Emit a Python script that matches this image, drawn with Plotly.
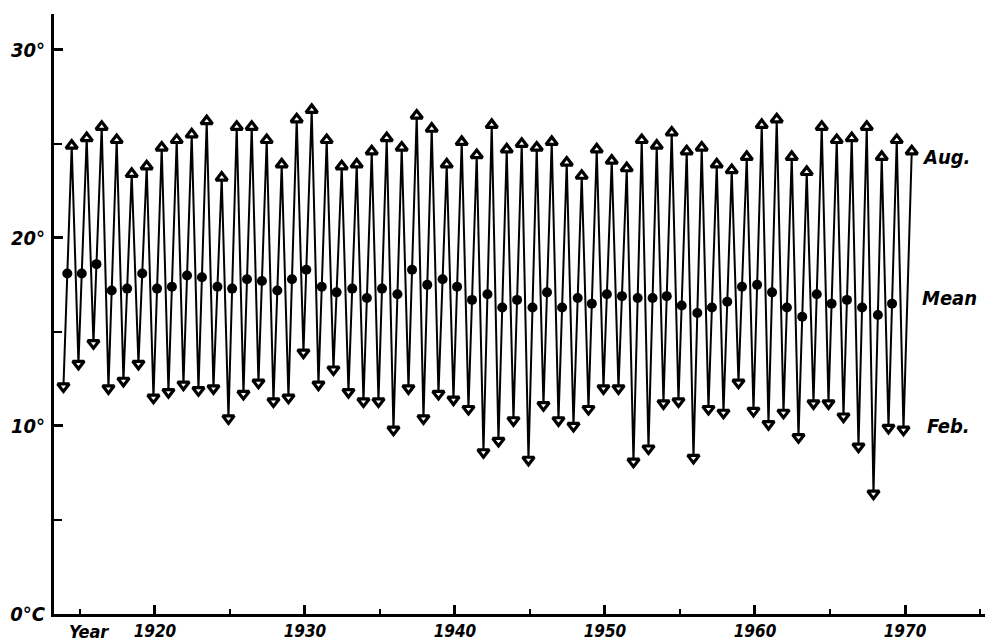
import numpy as np
import plotly.graph_objects as go

years = list(range(1914, 1971))

feb = [12.1, 13.3, 14.4, 12.0, 12.4, 13.3, 11.5, 11.8, 12.2, 11.9,
       12.0, 10.4, 11.7, 12.3, 11.3, 11.5, 13.9, 12.2, 13.0, 11.8,
       11.3, 11.3, 9.8, 12.0, 10.4, 11.7, 11.4, 10.9, 8.6, 9.2,
       10.3, 8.2, 11.1, 10.3, 10.0, 10.9, 12.0, 12.0, 8.1, 8.8,
       11.2, 11.3, 8.3, 10.9, 10.7, 12.3, 10.8, 10.1, 10.7, 9.4,
       11.2, 11.2, 10.5, 8.9, 6.4, 9.9, 9.8]

aug = [24.9, 25.3, 25.9, 25.2, 23.4, 23.8, 24.8, 25.2, 25.5, 26.2,
       23.2, 25.9, 25.9, 25.2, 23.9, 26.3, 26.8, 25.2, 23.8, 23.9,
       24.6, 25.3, 24.8, 26.5, 25.8, 23.9, 25.1, 24.4, 26.0, 24.7,
       25.0, 24.8, 25.1, 24.0, 23.3, 24.7, 24.1, 23.7, 25.2, 24.9,
       25.6, 24.6, 24.8, 23.9, 23.6, 24.3, 26.0, 26.3, 24.3, 23.5,
       25.9, 25.2, 25.3, 25.9, 24.3, 25.2, 24.6]

mean = [18.1, 18.1, 18.6, 17.2, 17.3, 18.1, 17.3, 17.4, 18.0, 17.9,
        17.4, 17.3, 17.8, 17.7, 17.2, 17.8, 18.3, 17.4, 17.1, 17.3,
        16.8, 17.3, 17.0, 18.3, 17.5, 17.8, 17.4, 16.7, 17.0, 16.3,
        16.7, 16.3, 17.1, 16.3, 16.8, 16.5, 17.0, 16.9, 16.8, 16.8,
        16.9, 16.4, 16.0, 16.3, 16.6, 17.4, 17.5, 17.1, 16.3, 15.8,
        17.0, 16.5, 16.7, 16.3, 15.9, 16.5, None]

x_major = [1920, 1930, 1940, 1950, 1960, 1970]
x_labels = ["1920", "1930", "1940", "1950", "1960", "1970"]
y_major = [0, 10, 20, 30]
y_labels = ["0°C", "10°", "20°", "30°"]

# plotting positions within each year (month offsets)
FEB_OFF = -0.1
AUG_OFF = 0.45

yr = np.array(years, dtype=float)
f = np.array(feb)
a = np.array(aug)
xf = yr + FEB_OFF
xa = yr + AUG_OFF

zx = np.empty(2 * len(yr))
zy = np.empty(2 * len(yr))
zx[0::2], zx[1::2] = xf, xa
zy[0::2], zy[1::2] = f, a

mx, my = [], []
for i, m in enumerate(mean):
    if m is None:
        continue
    t = (m - f[i]) / (a[i] - f[i])
    mx.append(xf[i] + t * (xa[i] - xf[i]))
    my.append(m)

FONT = "DejaVu Sans Condensed, DejaVu Sans, sans-serif"

fig = go.Figure()
fig.add_trace(go.Scatter(x=zx, y=zy, mode="lines",
                         line=dict(color="black", width=2),
                         hoverinfo="skip", showlegend=False))
fig.add_trace(go.Scatter(x=xf, y=f, mode="markers", name="Feb.",
                         marker=dict(symbol="triangle-down", size=10, color="white",
                                     line=dict(color="black", width=3.2)),
                         showlegend=False))
fig.add_trace(go.Scatter(x=xa, y=a, mode="markers", name="Aug.",
                         marker=dict(symbol="triangle-up", size=10, color="white",
                                     line=dict(color="black", width=3.2)),
                         showlegend=False))
fig.add_trace(go.Scatter(x=mx, y=my, mode="markers", name="Mean",
                         marker=dict(symbol="circle", size=10, color="black"),
                         showlegend=False))

ann_font = dict(family=FONT, size=20, color="black", weight="bold", style="italic")
fig.add_annotation(x=1971.0, y=24.3, text="Aug.", showarrow=False, xanchor="left",
                   font=ann_font)
fig.add_annotation(x=1971.0, y=16.8, text="Mean", showarrow=False, xanchor="left",
                   font=ann_font)
fig.add_annotation(x=1971.3, y=10.0, text="Feb.", showarrow=False, xanchor="left",
                   font=ann_font)
fig.add_annotation(x=1915.6, xref="x", y=-0.01, yref="paper", yanchor="top",
                   text="Year", showarrow=False, xanchor="center", borderpad=0,
                   font=dict(family=FONT, size=18, color="black", weight="bold",
                             style="italic"))

fig.update_xaxes(range=[1913.27, 1976.2], showline=True, linewidth=3, linecolor="black",
                 showgrid=False, zeroline=False, tickmode="array", tickvals=x_major,
                 ticktext=x_labels, ticks="inside", ticklen=9, tickwidth=2.5,
                 tickcolor="black", automargin=False,
                 minor=dict(tick0=1915, dtick=5, ticks="inside", ticklen=5,
                            tickwidth=2, tickcolor="black", showgrid=False),
                 tickfont=dict(family=FONT, size=17, color="black", weight="bold",
                               style="italic"))
fig.update_yaxes(range=[0, 31.9], showline=True, linewidth=3, linecolor="black",
                 showgrid=False, zeroline=False, tickmode="array", tickvals=y_major,
                 ticktext=y_labels, ticks="inside", ticklen=9, tickwidth=2.5,
                 tickcolor="black", automargin=False, ticklabelstandoff=2,
                 minor=dict(tick0=0, dtick=5, ticks="inside", ticklen=8,
                            tickwidth=2, tickcolor="black", showgrid=False),
                 tickfont=dict(family=FONT, size=20, color="black", weight="bold",
                               style="italic"))

fig.update_layout(width=993, height=641, margin=dict(l=46, r=3, t=6, b=35),
                  plot_bgcolor="white", paper_bgcolor="white")

fig.write_html("out.html")
